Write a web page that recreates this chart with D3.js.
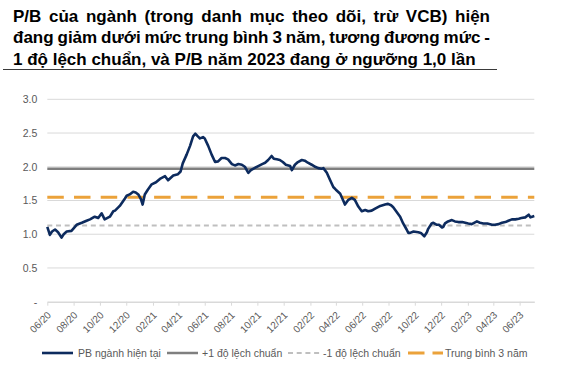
<!DOCTYPE html>
<html>
<head>
<meta charset="utf-8">
<script src="https://cdn.jsdelivr.net/npm/d3@7"></script>
<style>
  body { margin: 0; background: #fff; }
  svg text { font-family: "Liberation Sans", Arial, sans-serif; }
</style>
</head>
<body>
<svg id="chart" width="583" height="375"></svg>
<script>
// title lines (line 1 and 2 are justified in the original)
var titleLines = [
    "P/B của ngành (trong danh mục theo dõi, trừ VCB) hiện",
    "đang giảm dưới mức trung bình 3 năm, tương đương mức -",
    "1 độ lệch chuẩn, và P/B năm 2023 đang ở ngưỡng 1,0 lần"
];

// P/B series
var pbDates = [
    "2020-06-01","2020-06-07","2020-06-12","2020-06-19","2020-06-26","2020-07-04","2020-07-09","2020-07-16",
    "2020-07-27","2020-08-08","2020-08-20","2020-08-31","2020-09-08","2020-09-19","2020-09-27","2020-10-05",
    "2020-10-12","2020-10-24","2020-11-01","2020-11-05","2020-11-16","2020-11-28","2020-12-02","2020-12-09",
    "2020-12-17","2020-12-23","2020-12-29","2021-01-04","2021-01-08","2021-01-13","2021-01-20","2021-01-29",
    "2021-02-08","2021-02-17","2021-03-01","2021-03-08","2021-03-20","2021-03-31","2021-04-06","2021-04-11",
    "2021-04-20","2021-04-28","2021-05-05","2021-05-10","2021-05-16","2021-05-21","2021-05-28","2021-06-01",
    "2021-06-09","2021-06-17","2021-06-25","2021-07-02","2021-07-10","2021-07-18","2021-07-25","2021-08-03",
    "2021-08-10","2021-08-18","2021-08-26","2021-09-02","2021-09-10","2021-09-16","2021-09-21","2021-10-03",
    "2021-10-12","2021-10-19","2021-10-26","2021-11-03","2021-11-08","2021-11-15","2021-11-22","2021-11-29",
    "2021-12-06","2021-12-16","2021-12-20","2021-12-27","2022-01-03","2022-01-12","2022-01-19","2022-01-26",
    "2022-02-04","2022-02-12","2022-02-19","2022-02-27","2022-03-03","2022-03-11","2022-03-18","2022-03-26",
    "2022-04-01","2022-04-11","2022-04-18","2022-04-22","2022-04-30","2022-05-08","2022-05-15","2022-05-23",
    "2022-05-31","2022-06-08","2022-06-15","2022-06-23","2022-07-01","2022-07-13","2022-07-24","2022-07-31",
    "2022-08-07","2022-08-12","2022-08-20","2022-08-28","2022-09-04","2022-09-12","2022-09-16","2022-09-20",
    "2022-09-28","2022-10-09","2022-10-15","2022-10-23","2022-10-29","2022-11-01","2022-11-09","2022-11-13",
    "2022-11-21","2022-11-26","2022-12-03","2022-12-06","2022-12-10","2022-12-17","2022-12-26","2023-01-02",
    "2023-01-10","2023-01-19","2023-01-26","2023-02-02","2023-02-10","2023-02-22","2023-03-01","2023-03-09",
    "2023-03-18","2023-03-29","2023-04-05","2023-04-13","2023-04-21","2023-04-29","2023-05-06","2023-05-14",
    "2023-05-22","2023-05-30","2023-06-05","2023-06-14","2023-06-22","2023-06-26","2023-06-30","2023-07-05"
];
var pbValues = [
    1.11,0.99,1.04,1.07,1.03,0.95,1.00,1.04,
    1.05,1.14,1.17,1.20,1.22,1.26,1.24,1.31,
    1.22,1.26,1.34,1.35,1.42,1.53,1.57,1.59,
    1.63,1.62,1.59,1.52,1.44,1.59,1.66,1.74,
    1.77,1.82,1.86,1.80,1.87,1.89,1.93,2.05,
    2.18,2.31,2.45,2.49,2.45,2.42,2.44,2.42,
    2.31,2.18,2.07,2.08,2.13,2.13,2.11,2.04,
    2.02,2.04,2.03,2.00,1.91,1.95,1.97,2.01,
    2.04,2.06,2.10,2.16,2.12,2.11,2.10,2.07,
    2.03,2.01,1.95,2.03,2.07,2.10,2.09,2.06,
    2.03,2.00,1.98,1.97,1.98,1.91,1.81,1.70,
    1.66,1.60,1.50,1.44,1.51,1.54,1.51,1.41,
    1.34,1.36,1.34,1.35,1.38,1.42,1.44,1.45,
    1.43,1.40,1.33,1.26,1.16,1.07,1.02,1.02,
    1.04,1.03,1.02,0.97,1.03,1.08,1.16,1.17,
    1.14,1.14,1.10,1.11,1.16,1.19,1.21,1.19,
    1.18,1.18,1.17,1.16,1.15,1.19,1.17,1.16,
    1.16,1.14,1.14,1.15,1.17,1.18,1.20,1.22,
    1.22,1.23,1.24,1.25,1.29,1.25,1.26,1.27
];

// reference levels
var plusOneSd = 1.97;
var minusOneSd = 1.13;
var avg3y = 1.55;

var yTicks = [0, 0.5, 1.0, 1.5, 2.0, 2.5, 3.0];
var legendLabels = ["PB ngành hiện tại", "+1 độ lệch chuẩn", "-1 độ lệch chuẩn", "Trung bình 3 năm"];

(function() {
var parse = d3.timeParse("%Y-%m-%d");
var pb = pbDates.map(function(d, i) { return { date: parse(d), value: pbValues[i] }; });

var svg = d3.select("#chart");
var plotLeft = 47.3, plotRight = 534.3, plotTop = 99.3, plotBottom = 301.7;

// ---- title ----
var title = svg.append("g");
titleLines.forEach(function(t, i) {
    var txt = title.append("text")
        .attr("x", 13)
        .attr("y", 21.7 + i * 21.7)
        .attr("font-size", 17)
        .attr("font-weight", "bold")
        .attr("fill", "#000")
        .text(t);
    if (i < 2) {
        // justify like the source text box
        var w = txt.node().getComputedTextLength();
        var spaces = t.split(" ").length - 1;
        txt.attr("word-spacing", ((490 - 13 - w) / spaces) + "px");
    }
});
svg.append("line")
    .attr("x1", 3).attr("x2", 497)
    .attr("y1", 69.5).attr("y2", 69.5)
    .attr("stroke", "#3a3a3a").attr("stroke-width", 1);

// ---- scales ----
var x = d3.scaleTime()
    .domain([parse("2020-06-01"), parse("2023-07-05")])
    .range([plotLeft, plotRight]);
var y = d3.scaleLinear()
    .domain([0, 3])
    .range([plotBottom, plotTop]);

// gridlines
svg.append("g").selectAll("line")
    .data(yTicks.filter(function(d) { return d > 0; }))
    .enter().append("line")
    .attr("x1", plotLeft).attr("x2", plotRight)
    .attr("y1", function(d) { return y(d); })
    .attr("y2", function(d) { return y(d); })
    .attr("stroke", "#d9d9d9").attr("stroke-width", 1);

// y axis labels
var yAxis = d3.axisLeft(y)
    .tickValues(yTicks)
    .tickSize(0)
    .tickPadding(10)
    .tickFormat(function(d) { return d === 0 ? "-" : d3.format(".1f")(d); });
var yg = svg.append("g").attr("transform", "translate(" + plotLeft + ",0)").call(yAxis);
yg.select(".domain").remove();
yg.selectAll("text").attr("font-size", 10.5).attr("fill", "#595959").attr("font-family", null);

// x axis
var xTicks = d3.timeMonth.range(parse("2020-06-01"), parse("2023-07-02"), 2);
var xAxis = d3.axisBottom(x)
    .tickValues(xTicks)
    .tickSize(4)
    .tickSizeOuter(0)
    .tickFormat(d3.timeFormat("%m/%y"));
var xg = svg.append("g").attr("transform", "translate(0," + plotBottom + ")").call(xAxis);
xg.select(".domain").attr("stroke", "#d9d9d9").attr("stroke-width", 1.5);
xg.selectAll(".tick line").attr("stroke", "#d9d9d9");
xg.selectAll("text")
    .attr("font-size", 10)
    .attr("fill", "#595959")
    .attr("font-family", null)
    .attr("text-anchor", "end")
    .attr("dy", null)
    .attr("y", null)
    .attr("transform", "translate(4,14) rotate(-45)");

// ---- reference lines ----
function hline(v, color, width, dash) {
    svg.append("line")
        .attr("x1", plotLeft).attr("x2", plotRight)
        .attr("y1", y(v)).attr("y2", y(v))
        .attr("stroke", color)
        .attr("stroke-width", width)
        .attr("stroke-dasharray", dash);
}
hline(plusOneSd, "#7f7f7f", 2.5, null);
hline(minusOneSd, "#bfbfbf", 2, "5,3.7");
hline(avg3y, "#eba23a", 3, "16.5,10.2");

// ---- P/B line ----
var line = d3.line()
    .x(function(d) { return x(d.date); })
    .y(function(d) { return y(d.value); });
svg.append("path")
    .datum(pb)
    .attr("d", line)
    .attr("fill", "none")
    .attr("stroke", "#0d2b5e")
    .attr("stroke-width", 2.6)
    .attr("stroke-linejoin", "round");

// ---- legend ----
var legend = [
    { label: legendLabels[0], x1: 42, x2: 73, tx: 78, color: "#0d2b5e", width: 2.6, dash: null },
    { label: legendLabels[1], x1: 167, x2: 198, tx: 202, color: "#7f7f7f", width: 2.5, dash: null },
    { label: legendLabels[2], x1: 288, x2: 322, tx: 323, color: "#bfbfbf", width: 2, dash: "5,3.7" },
    { label: legendLabels[3], x1: 408, x2: 443, tx: 445, color: "#eba23a", width: 3, dash: "16.5,8" }
];
var lg = svg.append("g").selectAll("g").data(legend).enter().append("g");
lg.append("line")
    .attr("x1", function(d) { return d.x1; })
    .attr("x2", function(d) { return d.x2; })
    .attr("y1", 353).attr("y2", 353)
    .attr("stroke", function(d) { return d.color; })
    .attr("stroke-width", function(d) { return d.width; })
    .attr("stroke-dasharray", function(d) { return d.dash; });
lg.append("text")
    .attr("x", function(d) { return d.tx; })
    .attr("y", 356.5)
    .attr("font-size", 10.5)
    .attr("fill", "#595959")
    .text(function(d) { return d.label; });
})();
</script>
</body>
</html>
